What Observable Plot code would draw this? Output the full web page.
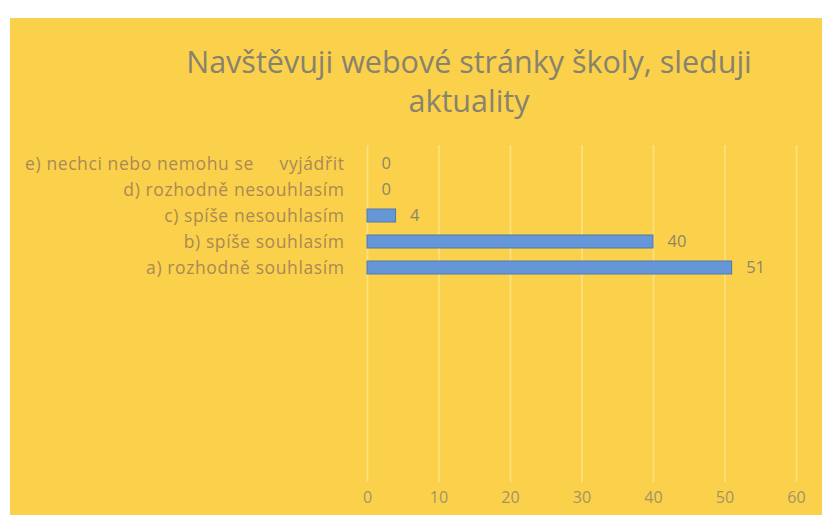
<!DOCTYPE html>
<html>
<head>
<meta charset="utf-8">
<script src="https://cdn.jsdelivr.net/npm/d3@7"></script>
<script src="https://cdn.jsdelivr.net/npm/@observablehq/plot@0.6"></script>
<style>
  html, body { margin: 0; padding: 0; background: #ffffff; }
  #wrap { position: absolute; left: 10px; top: 18px; width: 812px; height: 497px; background: #fbd14b; overflow: hidden; }
  #title { position: relative; height: 102px; }
  #title div { position: absolute; left: 459px; top: 24px; transform: translateX(-50%); white-space: nowrap; text-align: center;
    font-family: "Open Sans", sans-serif; font-size: 30.5px; line-height: 39px; color: #87836f; }
  #chart svg { display: block; }
  #chart [aria-label="y-axis tick label"] { letter-spacing: 0.6px; }
</style>
</head>
<body>
<div id="wrap">
  <div id="title"><div>Navštěvuji webové stránky školy, sleduji<br>aktuality</div></div>
  <div id="chart"></div>
</div>
<script>
const categories = [
  "e) nechci nebo nemohu se\u00a0\u00a0\u00a0\u00a0 vyjádřit",
  "d) rozhodně nesouhlasím",
  "c) spíše nesouhlasím",
  "b) spíše souhlasím",
  "a) rozhodně souhlasím"
];
const values = [0, 0, 4, 40, 51];
const xTicks = [0, 10, 20, 30, 40, 50, 60];

const data = categories.map((c, i) => ({cat: c, value: values[i]}));

const chart = Plot.plot({
  width: 812,
  height: 395,
  marginLeft: 357,
  marginRight: 26,
  marginTop: 25,
  marginBottom: 33,
  style: {background: "transparent", fontFamily: "Open Sans, sans-serif", fontSize: "17px"},
  x: {domain: [0, 60], ticks: xTicks},
  y: {domain: categories, range: [30, 161], paddingInner: 0.5, paddingOuter: 0.25},
  marks: [
    Plot.gridX(xTicks, {stroke: "#fde07c", strokeOpacity: 1, strokeWidth: 1.8}),
    Plot.barX(data, {x: "value", y: "cat", fill: "#6596d6", stroke: "#4e78b2", strokeWidth: 1}),
    Plot.text(data, {x: "value", y: "cat", text: d => String(d.value), dx: 14, textAnchor: "start", fill: "#8e8566", fontSize: 16.5}),
    Plot.axisX({ticks: xTicks, tickSize: 0, tickPadding: 9, color: "#a39466", fontSize: 16, label: null}),
    Plot.axisY({tickSize: 0, tickPadding: 23, color: "#a98a55", fontSize: 17.5, label: null})
  ]
});
document.getElementById("chart").appendChild(chart);
</script>
</body>
</html>
